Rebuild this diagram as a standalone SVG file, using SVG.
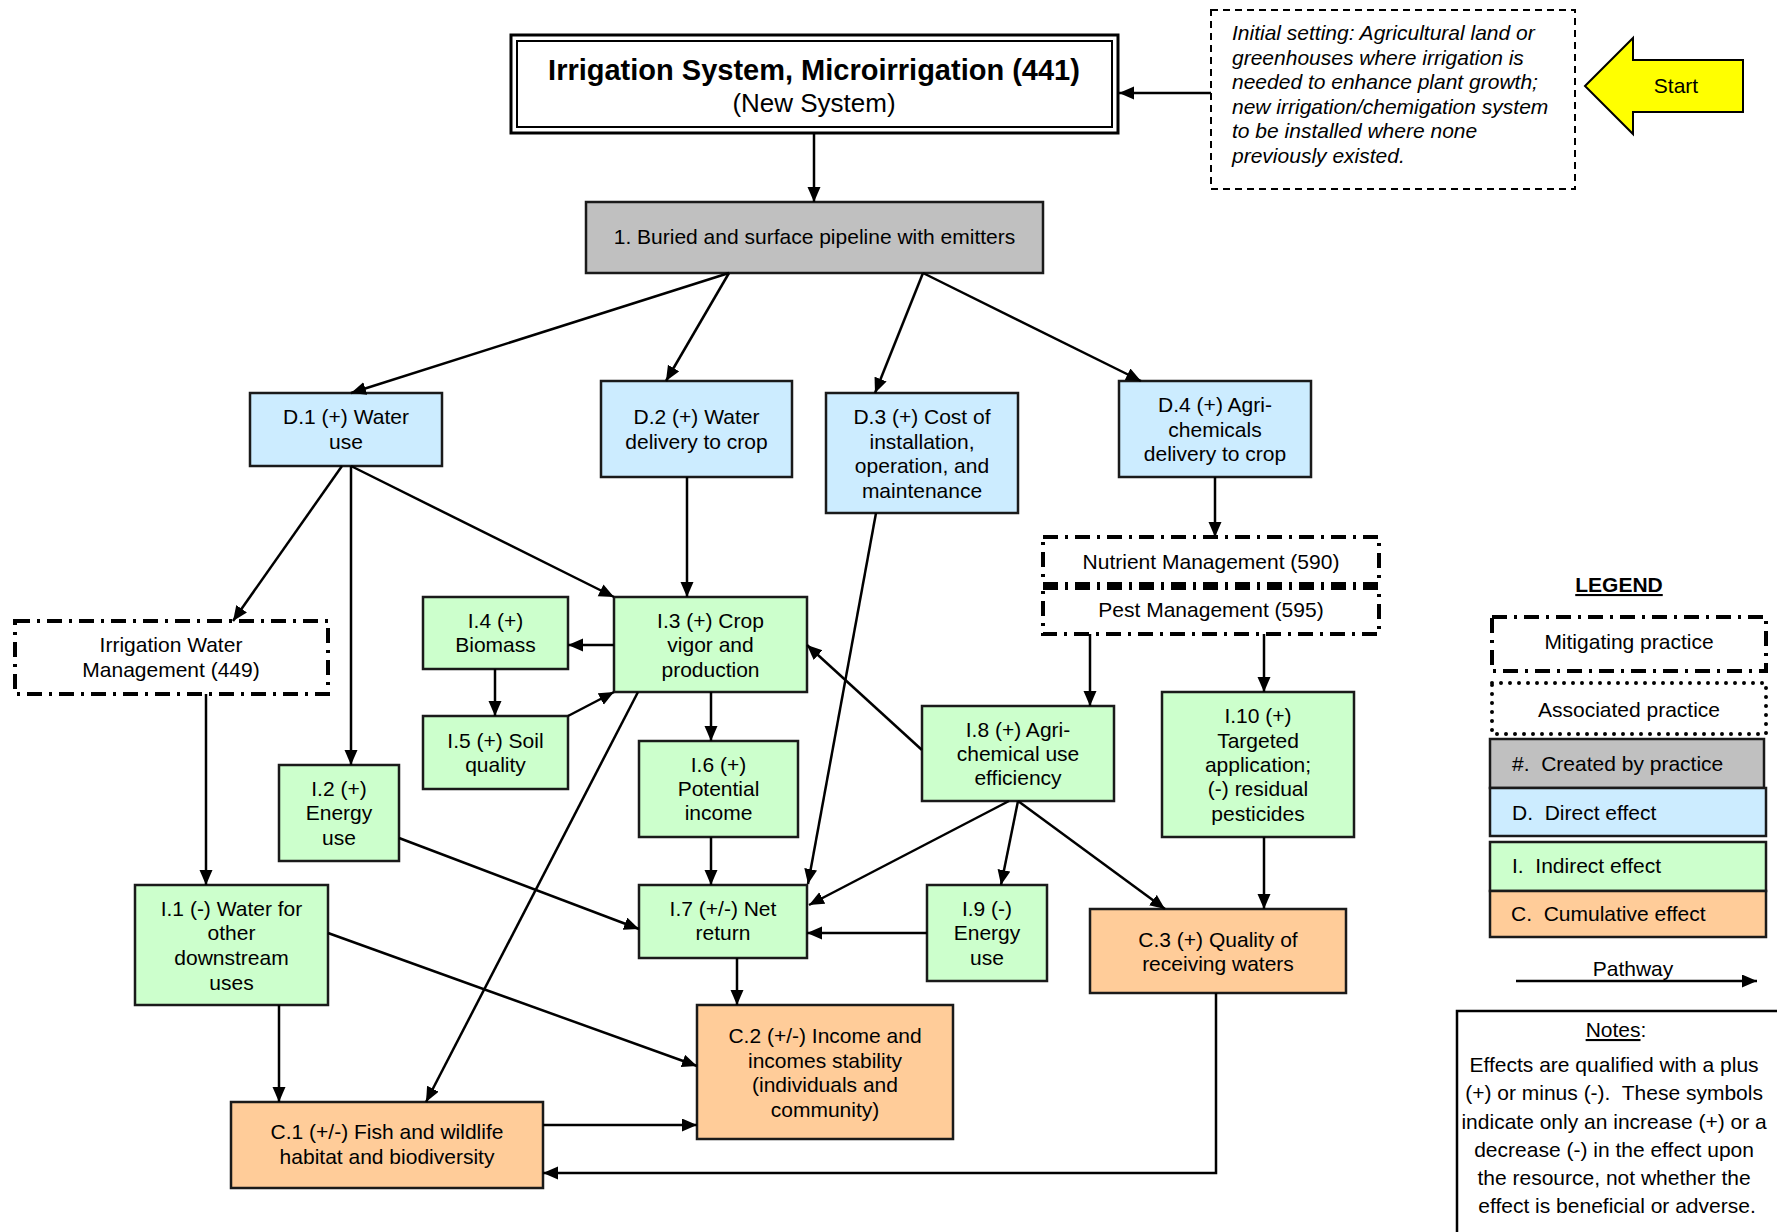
<svg xmlns="http://www.w3.org/2000/svg" width="1777" height="1232" viewBox="0 0 1777 1232">
  <defs>
    <marker id="ah" markerWidth="16" markerHeight="14" refX="15" refY="6.5" orient="auto" markerUnits="userSpaceOnUse">
      <path d="M0,0 L15,6.5 L0,13 z" fill="#000"/>
    </marker>
    <style>
      .t { font-family: "Liberation Sans", Arial, sans-serif; font-size: 21px; fill: #000; text-anchor: middle; }
      .tl { font-family: "Liberation Sans", Arial, sans-serif; font-size: 21px; fill: #000; }
      .box { stroke: #1a1a1a; stroke-width: 2.5; }
      .grey { fill: #C0C0C0; }
      .direct { fill: #CCECFF; }
      .indirect { fill: #CCFFCC; }
      .cumul { fill: #FFCC99; }
      .mit { fill: #fff; stroke: #000; stroke-width: 4; stroke-dasharray: 15 7 3 7; }
      .assoc { fill: #fff; stroke: #000; stroke-width: 4; stroke-linecap: round; stroke-dasharray: 0 9; }
      .conn { stroke: #000; stroke-width: 2.5; fill: none; marker-end: url(#ah); }
    </style>
  </defs>

  <rect width="1777" height="1232" fill="#fff"/>

  <!-- practice title -->
  <g id="title">
    <rect x="511" y="35" width="607" height="98" fill="#fff" stroke="#000" stroke-width="3"/>
    <rect x="517" y="41" width="595" height="86" fill="none" stroke="#000" stroke-width="2"/>
    <text class="t" x="814" y="80" style="font-size:29px;font-weight:bold">Irrigation System, Microirrigation (441)</text>
    <text class="t" x="814" y="112" style="font-size:26px">(New System)</text>
  </g>

  <!-- initial setting -->
  <g id="initial-setting">
    <rect x="1211" y="10" width="364" height="179" fill="#fff" stroke="#000" stroke-width="2" stroke-dasharray="7 5"/>
    <text class="tl" style="font-style:italic">
      <tspan x="1232" y="40">Initial setting: Agricultural land or</tspan>
      <tspan x="1232" y="64.5">greenhouses where irrigation is</tspan>
      <tspan x="1232" y="89">needed to enhance plant growth;</tspan>
      <tspan x="1232" y="113.5">new irrigation/chemigation system</tspan>
      <tspan x="1232" y="138">to be installed where none</tspan>
      <tspan x="1232" y="162.5">previously existed.</tspan>
    </text>
  </g>

  <!-- start arrow -->
  <g id="start">
    <polygon points="1585,86 1633,38 1633,60 1743,60 1743,112 1633,112 1633,134" fill="#FFFF00" stroke="#000" stroke-width="2"/>
    <text class="t" x="1676" y="93">Start</text>
  </g>

  <g id="n1">
    <rect class="box grey" x="586" y="202" width="457" height="71" stroke-width="3"/>
    <text class="t" x="814.5" y="244">1. Buried and surface pipeline with emitters</text>
  </g>

  <g id="D1">
    <rect class="box direct" x="250" y="393" width="192" height="73"/>
    <text class="t"><tspan x="346" y="424">D.1 (+) Water</tspan><tspan x="346" y="449">use</tspan></text>
  </g>
  <g id="D2">
    <rect class="box direct" x="601" y="381" width="191" height="96"/>
    <text class="t"><tspan x="696.5" y="424">D.2 (+) Water</tspan><tspan x="696.5" y="449">delivery to crop</tspan></text>
  </g>
  <g id="D3">
    <rect class="box direct" x="826" y="393" width="192" height="120"/>
    <text class="t"><tspan x="922" y="424">D.3 (+) Cost of</tspan><tspan x="922" y="449">installation,</tspan><tspan x="922" y="473">operation, and</tspan><tspan x="922" y="498">maintenance</tspan></text>
  </g>
  <g id="D4">
    <rect class="box direct" x="1119" y="381" width="192" height="96"/>
    <text class="t"><tspan x="1215" y="412">D.4 (+) Agri-</tspan><tspan x="1215" y="437">chemicals</tspan><tspan x="1215" y="461">delivery to crop</tspan></text>
  </g>

  <g id="IWM">
    <rect class="mit" x="15" y="621" width="313" height="73"/>
    <text class="t"><tspan x="171" y="652">Irrigation Water</tspan><tspan x="171" y="677">Management (449)</tspan></text>
  </g>

  <g id="NM">
    <rect class="mit" x="1043" y="537" width="336" height="47"/>
    <text class="t" x="1211" y="569">Nutrient Management (590)</text>
  </g>
  <g id="PM">
    <rect class="mit" x="1043" y="588" width="336" height="46"/>
    <text class="t" x="1211" y="617">Pest Management (595)</text>
  </g>

  <g id="I1">
    <rect class="box indirect" x="135" y="885" width="193" height="120"/>
    <text class="t"><tspan x="231.5" y="916">I.1 (-) Water for</tspan><tspan x="231.5" y="940">other</tspan><tspan x="231.5" y="965">downstream</tspan><tspan x="231.5" y="990">uses</tspan></text>
  </g>
  <g id="I2">
    <rect class="box indirect" x="279" y="765" width="120" height="96"/>
    <text class="t"><tspan x="339" y="796">I.2 (+)</tspan><tspan x="339" y="820">Energy</tspan><tspan x="339" y="845">use</tspan></text>
  </g>
  <g id="I3">
    <rect class="box indirect" x="614" y="597" width="193" height="95"/>
    <text class="t"><tspan x="710.5" y="628">I.3 (+) Crop</tspan><tspan x="710.5" y="652">vigor and</tspan><tspan x="710.5" y="677">production</tspan></text>
  </g>
  <g id="I4">
    <rect class="box indirect" x="423" y="597" width="145" height="72"/>
    <text class="t"><tspan x="495.5" y="628">I.4 (+)</tspan><tspan x="495.5" y="652">Biomass</tspan></text>
  </g>
  <g id="I5">
    <rect class="box indirect" x="423" y="716" width="145" height="73"/>
    <text class="t"><tspan x="495.5" y="748">I.5 (+) Soil</tspan><tspan x="495.5" y="772">quality</tspan></text>
  </g>
  <g id="I6">
    <rect class="box indirect" x="639" y="741" width="159" height="96"/>
    <text class="t"><tspan x="718.5" y="772">I.6 (+)</tspan><tspan x="718.5" y="796">Potential</tspan><tspan x="718.5" y="820">income</tspan></text>
  </g>
  <g id="I7">
    <rect class="box indirect" x="639" y="885" width="168" height="73"/>
    <text class="t"><tspan x="723" y="916">I.7 (+/-) Net</tspan><tspan x="723" y="940">return</tspan></text>
  </g>
  <g id="I8">
    <rect class="box indirect" x="922" y="706" width="192" height="95"/>
    <text class="t"><tspan x="1018" y="737">I.8 (+) Agri-</tspan><tspan x="1018" y="761">chemical use</tspan><tspan x="1018" y="785">efficiency</tspan></text>
  </g>
  <g id="I9">
    <rect class="box indirect" x="927" y="885" width="120" height="96"/>
    <text class="t"><tspan x="987" y="916">I.9 (-)</tspan><tspan x="987" y="940">Energy</tspan><tspan x="987" y="965">use</tspan></text>
  </g>
  <g id="I10">
    <rect class="box indirect" x="1162" y="692" width="192" height="145"/>
    <text class="t"><tspan x="1258" y="723">I.10 (+)</tspan><tspan x="1258" y="748">Targeted</tspan><tspan x="1258" y="772">application;</tspan><tspan x="1258" y="796">(-) residual</tspan><tspan x="1258" y="821">pesticides</tspan></text>
  </g>

  <g id="C1">
    <rect class="box cumul" x="231" y="1102" width="312" height="86"/>
    <text class="t"><tspan x="387" y="1139">C.1 (+/-) Fish and wildlife</tspan><tspan x="387" y="1164">habitat and biodiversity</tspan></text>
  </g>
  <g id="C2">
    <rect class="box cumul" x="697" y="1005" width="256" height="134"/>
    <text class="t"><tspan x="825" y="1043">C.2 (+/-) Income and</tspan><tspan x="825" y="1068">incomes stability</tspan><tspan x="825" y="1092">(individuals and</tspan><tspan x="825" y="1117">community)</tspan></text>
  </g>
  <g id="C3">
    <rect class="box cumul" x="1090" y="909" width="256" height="84"/>
    <text class="t"><tspan x="1218" y="947">C.3 (+) Quality of</tspan><tspan x="1218" y="971">receiving waters</tspan></text>
  </g>

  <!-- pathways -->
  <g id="connectors">
    <line class="conn" x1="814" y1="134" x2="814" y2="202"/>
    <line class="conn" x1="1211" y1="93" x2="1119" y2="93"/>
    <line class="conn" x1="729" y1="273" x2="351" y2="393"/>
    <line class="conn" x1="729" y1="273" x2="666" y2="381"/>
    <line class="conn" x1="923" y1="273" x2="875" y2="393"/>
    <line class="conn" x1="923" y1="273" x2="1141" y2="381"/>
    <line class="conn" x1="342" y1="466" x2="233" y2="621"/>
    <line class="conn" x1="351" y1="466" x2="351" y2="765"/>
    <line class="conn" x1="351" y1="466" x2="614" y2="597"/>
    <line class="conn" x1="687" y1="477" x2="687" y2="597"/>
    <line class="conn" x1="876" y1="513" x2="808" y2="884"/>
    <line class="conn" x1="1215" y1="477" x2="1215" y2="537"/>
    <line class="conn" x1="1090" y1="634" x2="1090" y2="706"/>
    <line class="conn" x1="1264" y1="634" x2="1264" y2="692"/>
    <line class="conn" x1="614" y1="645" x2="568" y2="645"/>
    <line class="conn" x1="495" y1="669" x2="495" y2="716"/>
    <line class="conn" x1="568" y1="716" x2="614" y2="692"/>
    <line class="conn" x1="711" y1="692" x2="711" y2="741"/>
    <line class="conn" x1="922" y1="750" x2="807" y2="645"/>
    <line class="conn" x1="638" y1="692" x2="426" y2="1102"/>
    <line class="conn" x1="711" y1="837" x2="711" y2="885"/>
    <line class="conn" x1="206" y1="694" x2="206" y2="885"/>
    <line class="conn" x1="399" y1="838" x2="639" y2="929"/>
    <line class="conn" x1="1009" y1="801" x2="809" y2="905"/>
    <line class="conn" x1="1018" y1="801" x2="1001" y2="885"/>
    <line class="conn" x1="1018" y1="801" x2="1165" y2="909"/>
    <line class="conn" x1="927" y1="933" x2="807" y2="933"/>
    <line class="conn" x1="1264" y1="837" x2="1264" y2="909"/>
    <line class="conn" x1="737" y1="958" x2="737" y2="1005"/>
    <line class="conn" x1="328" y1="933" x2="697" y2="1066"/>
    <line class="conn" x1="279" y1="1005" x2="279" y2="1102"/>
    <line class="conn" x1="543" y1="1125" x2="697" y2="1125"/>
    <polyline class="conn" points="1216,993 1216,1173 543,1173"/>
  </g>

  <!-- legend -->
  <g id="legend">
    <text class="t" x="1619" y="592" style="font-weight:bold;text-decoration:underline">LEGEND</text>
    <rect class="mit" x="1492" y="617" width="274" height="54"/>
    <text class="t" x="1629" y="649">Mitigating practice</text>
    <rect class="assoc" x="1492" y="683" width="274" height="51"/>
    <text class="t" x="1629" y="717">Associated practice</text>
    <rect class="box grey" x="1490" y="739" width="274" height="49"/>
    <text class="tl" x="1512" y="771">#.&#160; Created by practice</text>
    <rect class="box direct" x="1490" y="788" width="276" height="48"/>
    <text class="tl" x="1512" y="820">D.&#160; Direct effect</text>
    <rect class="box indirect" x="1490" y="842" width="276" height="49"/>
    <text class="tl" x="1512" y="873">I.&#160; Indirect effect</text>
    <rect class="box cumul" x="1490" y="891" width="276" height="46"/>
    <text class="tl" x="1511" y="921">C.&#160; Cumulative effect</text>
    <text class="t" x="1633" y="976">Pathway</text>
    <line class="conn" x1="1516" y1="981" x2="1757" y2="981"/>
  </g>

  <!-- notes -->
  <g id="notes">
    <rect x="1457" y="1011" width="360" height="260" fill="#fff" stroke="#000" stroke-width="2.5"/>
    <text class="t" x="1616" y="1037"><tspan style="text-decoration:underline">Notes</tspan>:</text>
    <text class="t">
      <tspan x="1617" y="1072">Effects are qualified with a plus</tspan>
      <tspan x="1617" y="1100">(+) or minus (-).&#160; These symbols</tspan>
      <tspan x="1617" y="1129">indicate only an increase (+) or a</tspan>
      <tspan x="1617" y="1157">decrease (-) in the effect upon</tspan>
      <tspan x="1617" y="1185">the resource, not whether the</tspan>
      <tspan x="1617" y="1213">effect is beneficial or adverse.</tspan>
    </text>
  </g>
</svg>
